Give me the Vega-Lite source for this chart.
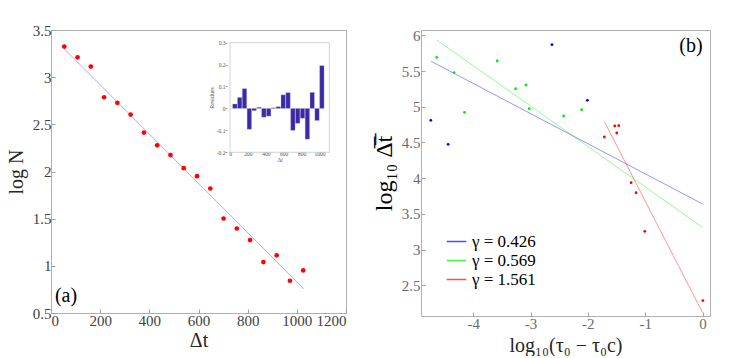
{
  "$schema": "https://vega.github.io/schema/vega-lite/v6.json",
  "background": "white",
  "padding": {"left": 5, "top": 22, "right": 0, "bottom": 0},
  "bounds": "flush",
  "spacing": 75,
  "config": {
    "font": "Liberation Serif",
    "view": {"stroke": "#b0b0b0", "strokeWidth": 1},
    "axis": {"grid": false, "domain": false, "tickColor": "#a0a0a0", "tickSize": -4, "titleFontWeight": "normal", "labelFont": "Liberation Serif", "titleFont": "Liberation Serif"},
    "legend": {"labelFont": "Liberation Serif"},
    "text": {"font": "Liberation Serif"}
  },
  "datasets": {
    "pts": [
      {"dt": 54, "logN": 3.324}, {"dt": 108, "logN": 3.21}, {"dt": 162, "logN": 3.112},
      {"dt": 216, "logN": 2.787}, {"dt": 270, "logN": 2.728}, {"dt": 324, "logN": 2.603},
      {"dt": 378, "logN": 2.413}, {"dt": 432, "logN": 2.278}, {"dt": 486, "logN": 2.174},
      {"dt": 540, "logN": 2.035}, {"dt": 594, "logN": 1.95}, {"dt": 648, "logN": 1.82},
      {"dt": 702, "logN": 1.502}, {"dt": 756, "logN": 1.396}, {"dt": 810, "logN": 1.273},
      {"dt": 864, "logN": 1.04}, {"dt": 918, "logN": 1.111}, {"dt": 972, "logN": 0.842},
      {"dt": 1026, "logN": 0.951}
    ],
    "fit": [{"dt": 54, "logN": 3.30}, {"dt": 1028, "logN": 0.757}],
    "res": [
      {"dt": 54, "res": 0.02}, {"dt": 108, "res": 0.05}, {"dt": 162, "res": 0.09},
      {"dt": 216, "res": -0.095}, {"dt": 270, "res": -0.01}, {"dt": 324, "res": 0.005},
      {"dt": 378, "res": -0.04}, {"dt": 432, "res": -0.035}, {"dt": 486, "res": 0.003},
      {"dt": 540, "res": 0.008}, {"dt": 594, "res": 0.062}, {"dt": 648, "res": 0.072},
      {"dt": 702, "res": -0.10}, {"dt": 756, "res": -0.068}, {"dt": 810, "res": -0.045},
      {"dt": 864, "res": -0.14}, {"dt": 918, "res": 0.073}, {"dt": 972, "res": -0.055},
      {"dt": 1026, "res": 0.195}
    ],
    "frame": [{"x0": 0, "x1": 1110, "y0": -0.2, "y1": 0.3}],
    "bpts": [
      {"g": "γ = 0.426", "x": -4.739, "y": 4.81}, {"g": "γ = 0.426", "x": -4.437, "y": 4.474},
      {"g": "γ = 0.426", "x": -2.626, "y": 5.869}, {"g": "γ = 0.426", "x": -2.009, "y": 5.09},
      {"g": "γ = 0.569", "x": -4.635, "y": 5.692}, {"g": "γ = 0.569", "x": -4.332, "y": 5.477},
      {"g": "γ = 0.569", "x": -4.151, "y": 4.922}, {"g": "γ = 0.569", "x": -3.581, "y": 5.641},
      {"g": "γ = 0.569", "x": -3.261, "y": 5.253}, {"g": "γ = 0.569", "x": -3.08, "y": 5.305},
      {"g": "γ = 0.569", "x": -3.022, "y": 4.973}, {"g": "γ = 0.569", "x": -2.422, "y": 4.871},
      {"g": "γ = 0.569", "x": -2.108, "y": 4.959},
      {"g": "γ = 1.561", "x": -1.712, "y": 4.577}, {"g": "γ = 1.561", "x": -1.531, "y": 4.731},
      {"g": "γ = 1.561", "x": -1.461, "y": 4.735}, {"g": "γ = 1.561", "x": -1.496, "y": 4.633},
      {"g": "γ = 1.561", "x": -1.246, "y": 3.937}, {"g": "γ = 1.561", "x": -1.159, "y": 3.797},
      {"g": "γ = 1.561", "x": -1.007, "y": 3.256}, {"g": "γ = 1.561", "x": 0.006, "y": 2.286}
    ],
    "blines": [
      {"g": "γ = 0.426", "x": -4.733, "y": 5.636}, {"g": "γ = 0.426", "x": 0, "y": 3.639},
      {"g": "γ = 0.569", "x": -4.635, "y": 5.935}, {"g": "γ = 0.569", "x": 0, "y": 3.312},
      {"g": "γ = 1.561", "x": -1.706, "y": 4.782}, {"g": "γ = 1.561", "x": 0, "y": 2.118}
    ],
    "labs": [{"lab": "(a)", "dt": 16, "logN": 0.68}],
    "labsb": [{"lab": "(b)", "x": 0, "y": 5.85}]
  },
  "hconcat": [
    {
      "width": 295,
      "height": 283,
      "layer": [
        {
          "layer": [
            {
              "data": {"name": "fit"},
              "mark": {"type": "line", "color": "#8484ff", "strokeWidth": 0.7},
              "encoding": {
                "x": {"field": "dt", "type": "quantitative", "scale": {"domain": [0, 1200], "nice": false},
                  "axis": {"values": [0, 200, 400, 600, 800, 1000, 1200], "labelExpr": "datum.value", "labelFontSize": 15, "labelColor": "#404040", "labelPadding": 4, "title": "Δt", "titleFontSize": 20, "titleColor": "#262626", "titlePadding": 2}},
                "y": {"field": "logN", "type": "quantitative", "scale": {"domain": [0.5, 3.5], "nice": false, "zero": false},
                  "axis": {"values": [0.5, 1, 1.5, 2, 2.5, 3, 3.5], "labelExpr": "datum.value", "labelFontSize": 15, "labelColor": "#404040", "labelPadding": 4, "title": "log N", "titleFontSize": 20, "titleColor": "#262626", "titlePadding": 6}}
              }
            },
            {
              "data": {"name": "pts"},
              "mark": {"type": "circle", "color": "#ff0000", "opacity": 1, "size": 22},
              "encoding": {
                "x": {"field": "dt", "type": "quantitative"},
                "y": {"field": "logN", "type": "quantitative"}
              }
            },
            {
              "data": {"name": "labs"},
              "mark": {"type": "text", "align": "left", "baseline": "middle", "fontSize": 20, "color": "#000000", "font": "Liberation Serif"},
              "encoding": {
                "x": {"field": "dt", "type": "quantitative"},
                "y": {"field": "logN", "type": "quantitative"},
                "text": {"field": "lab"}
              }
            }
          ]
        },
        {
          "layer": [
            {
              "data": {"name": "frame"},
              "mark": {"type": "rect", "fill": "white", "stroke": "#c8c8c8", "strokeWidth": 0.8},
              "encoding": {
                "x": {"field": "x0", "type": "quantitative", "scale": {"domain": [0, 1110], "range": [174, 283.4], "nice": false},
                  "axis": {"orient": "bottom", "offset": -160.7, "values": [0, 200, 400, 600, 800, 1000], "labelExpr": "datum.value", "labelFontSize": 5.5, "labelColor": "#555555", "labelPadding": 1, "tickSize": -2, "title": "Δt", "titleFontSize": 6, "titleColor": "#555555", "titlePadding": 0}},
                "x2": {"field": "x1"},
                "y": {"field": "y0", "type": "quantitative", "scale": {"domain": [-0.2, 0.3], "range": [122.3, 12.6], "nice": false},
                  "axis": {"orient": "left", "offset": -174, "values": [-0.2, -0.15, -0.1, -0.05, 0, 0.05, 0.1, 0.15, 0.2, 0.25, 0.3], "labelExpr": "datum.value", "labelFontSize": 5.5, "labelColor": "#555555", "labelPadding": 2, "tickSize": -2, "title": "Residues", "titleFontSize": 6, "titleColor": "#555555", "titlePadding": 2}},
                "y2": {"field": "y1"}
              }
            },
            {
              "data": {"name": "res"},
              "mark": {"type": "bar", "width": 4.4, "fill": "#3a2aa6", "stroke": "#b8b4dc", "strokeWidth": 0.3},
              "encoding": {
                "x": {"field": "dt", "type": "quantitative"},
                "y": {"field": "res", "type": "quantitative"}
              }
            }
          ]
        }
      ],
      "resolve": {"scale": {"x": "independent", "y": "independent"}, "axis": {"x": "independent", "y": "independent"}}
    },
    {
      "width": 289,
      "height": 286,
      "layer": [
        {
          "data": {"name": "blines"},
          "mark": {"type": "line", "strokeWidth": 0.6, "opacity": 0.7},
          "encoding": {
            "x": {"field": "x", "type": "quantitative", "scale": {"domain": [-4.91, 0.13], "nice": false, "zero": false},
              "axis": {"values": [-4, -3, -2, -1, 0], "labelExpr": "datum.value", "labelFontSize": 15, "labelColor": "#6b6b6b", "labelPadding": 4, "title": "log₁₀(τ₀ − τ₀c)", "titleFontSize": 20, "titleColor": "#262626", "titlePadding": 4}},
            "y": {"field": "y", "type": "quantitative", "scale": {"domain": [2.07, 6.075], "nice": false, "zero": false},
              "axis": {"values": [2.5, 3, 3.5, 4, 4.5, 5, 5.5, 6], "labelExpr": "datum.value", "labelFontSize": 15, "labelColor": "#6b6b6b", "labelPadding": 5, "title": "log₁₀ Δ̅t̅", "titleFontSize": 24, "titleColor": "#000000", "titlePadding": 5}},
            "stroke": {"field": "g", "type": "nominal",
              "scale": {"domain": ["γ = 0.426", "γ = 0.569", "γ = 1.561"], "range": ["#0000ff", "#00ee00", "#ff0000"]},
              "legend": {"title": null, "orient": "none", "legendX": 395, "legendY": 201, "symbolType": "stroke", "symbolSize": 380, "symbolStrokeWidth": 1.5, "labelFont": "Liberation Serif", "labelFontSize": 17, "labelColor": "#000000", "labelOffset": 5, "rowPadding": 0, "padding": 0}},
            "detail": {"field": "g"}
          }
        },
        {
          "data": {"name": "bpts"},
          "mark": {"type": "circle", "size": 8, "opacity": 1},
          "encoding": {
            "x": {"field": "x", "type": "quantitative"},
            "y": {"field": "y", "type": "quantitative"},
            "fill": {"field": "g", "type": "nominal",
              "scale": {"domain": ["γ = 0.426", "γ = 0.569", "γ = 1.561"], "range": ["#0000ff", "#00ee00", "#ff0000"]},
              "legend": null}
          }
        },
        {
          "data": {"name": "labsb"},
          "mark": {"type": "text", "align": "right", "baseline": "middle", "fontSize": 20, "color": "#000000", "font": "Liberation Serif"},
          "encoding": {
            "x": {"field": "x", "type": "quantitative"},
            "y": {"field": "y", "type": "quantitative"},
            "text": {"field": "lab"}
          }
        }
      ]
    }
  ]
}
